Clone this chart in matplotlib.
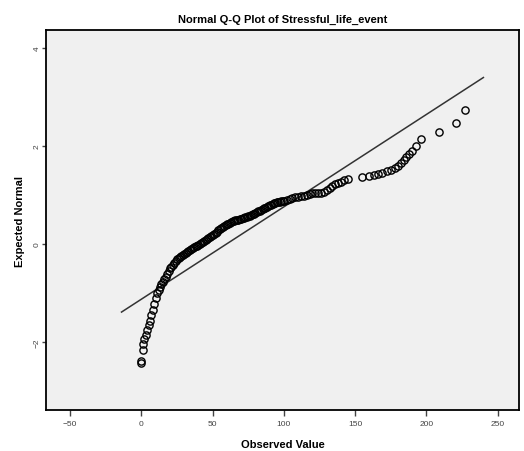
import matplotlib
matplotlib.use("Agg")
import matplotlib.pyplot as plt

# Normal Q-Q plot values
observed = [0, 0, 1, 1, 2, 3, 4, 5, 6, 7, 8, 9,
            10, 11, 12, 13, 14, 15, 16, 17, 18, 19,
            20, 21, 22, 23, 24, 25, 26, 27, 28, 29,
            30, 31, 32, 33, 34, 35, 36, 37, 38, 39,
            40, 41, 42, 43, 44, 45, 46, 47, 48, 49,
            50, 51, 52, 53, 54, 55, 56, 57, 58, 59,
            60, 61, 62, 63, 64, 65, 66, 67, 68, 69,
            70, 71, 72, 73, 74, 75, 76, 77, 78, 79,
            80, 81, 82, 83, 84, 85, 86, 87, 88, 89,
            90, 91, 92, 93, 94, 95, 96, 97, 98, 99,
            100, 102, 104, 106, 108, 110, 112, 114, 116, 118, 120, 122, 124,
            126, 128, 130, 132, 134, 136, 138, 140, 142, 145, 155, 160, 163,
            166, 169, 172, 175, 178, 180, 182, 184, 186, 188, 190, 193, 196,
            209, 221, 227]
expected = [-2.42, -2.38, -2.16, -2.05, -1.95, -1.86, -1.76, -1.66, -1.57, -1.46, -1.35, -1.23,
            -1.10, -1.00, -0.93, -0.87, -0.82, -0.77, -0.72, -0.67, -0.61, -0.55,
            -0.50, -0.46, -0.42, -0.38, -0.34, -0.31, -0.29, -0.27, -0.25, -0.23,
            -0.21, -0.19, -0.17, -0.15, -0.13, -0.11, -0.09, -0.07, -0.05, -0.04,
            -0.02, 0.00, 0.02, 0.04, 0.06, 0.08, 0.10, 0.12, 0.14, 0.16,
            0.18, 0.20, 0.23, 0.25, 0.28, 0.30, 0.32, 0.34, 0.36, 0.38,
            0.40, 0.41, 0.43, 0.44, 0.46, 0.47, 0.48, 0.49, 0.50, 0.51,
            0.52, 0.53, 0.54, 0.55, 0.56, 0.57, 0.58, 0.59, 0.61, 0.62,
            0.64, 0.65, 0.67, 0.68, 0.70, 0.71, 0.73, 0.74, 0.76, 0.77,
            0.79, 0.80, 0.82, 0.83, 0.84, 0.85, 0.85, 0.86, 0.87, 0.87,
            0.88, 0.90, 0.92, 0.93, 0.95, 0.96, 0.98, 0.99, 1.01, 1.02, 1.04, 1.04, 1.05,
            1.05, 1.06, 1.10, 1.15, 1.19, 1.22, 1.25, 1.27, 1.30, 1.33, 1.36, 1.39, 1.41,
            1.43, 1.46, 1.49, 1.52, 1.55, 1.59, 1.65, 1.71, 1.77, 1.83, 1.89, 2.01, 2.14,
            2.28, 2.48, 2.73]

# reference line ends
line_x = [-14, 240]
line_y = [-1.39, 3.40]

x_ticks = [-50, 0, 50, 100, 150, 200, 250]
y_ticks = [-2, 0, 2, 4]

plt.rcParams["font.family"] = ["Liberation Sans", "DejaVu Sans"]

fig = plt.figure(figsize=(5.24, 4.52), dpi=100)
ax = fig.add_axes([0.0878, 0.0907, 0.9027, 0.8407])
ax.set_facecolor("#f0f0f0")

ax.plot(line_x, line_y, color="#333333", lw=1.1, zorder=2)
ax.plot(observed, expected, "o", ms=5.2, mfc="none", mec="black", mew=1.0, zorder=3)

ax.set_xlim(-67, 265)
ax.set_ylim(-3.39, 4.37)
ax.set_xticks(x_ticks)
ax.set_yticks(y_ticks)
ax.tick_params(labelsize=6, colors="#444444", length=4, width=1)
ax.tick_params(axis="y", length=3, pad=1)
for lab in ax.get_yticklabels():
    lab.set_rotation(90)
    lab.set_va("center")

for s in ax.spines.values():
    s.set_linewidth(1.3)
    s.set_color("black")

ax.set_title("Normal Q-Q Plot of Stressful_life_event", fontsize=8, fontweight="bold", pad=6)
ax.set_xlabel("Observed Value", fontsize=8, fontweight="bold", labelpad=8)
ax.set_ylabel("Expected Normal", fontsize=8, fontweight="bold", labelpad=6)

fig.savefig("out.png", dpi=100, facecolor="white")
